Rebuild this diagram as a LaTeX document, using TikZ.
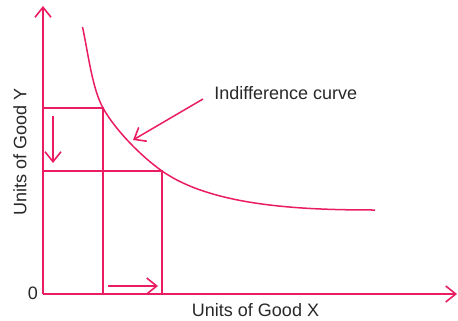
\documentclass[tikz,border=0pt]{standalone}
\usepackage{fontspec}
\setmainfont{Liberation Sans}
\usetikzlibrary{arrows.meta, positioning}
\definecolor{curvered}{RGB}{234,28,98}
\definecolor{labelgray}{RGB}{40,40,40}

\begin{document}
\begin{tikzpicture}[
    x=0.5pt, y=-0.5pt,
    >={Straight Barb[length=5pt, width=8pt, line width=0.8pt]},
    line/.style={draw=curvered, line width=0.75pt},
    label/.style={text=labelgray, font=\fontsize{9}{10}\selectfont, inner sep=0pt}
  ]
  \useasboundingbox (0,0) rectangle (458,320);

  % axes
  \coordinate (origin) at (43,294);
  \coordinate (ytop) at (43,6);
  \coordinate (xend) at (457,294);
  \draw[line, ->] (origin) -- (ytop);
  \draw[line, ->] (origin) -- (xend);

  % the two bundles on the curve
  \coordinate (bundleA) at (103,108);
  \coordinate (bundleB) at (162,171);
  \coordinate (yA) at (43,108);
  \coordinate (yB) at (43,171);
  \coordinate (xA) at (103,294);
  \coordinate (xB) at (162,294);
  \draw[line] (yA) -- (bundleA) -- (xA);
  \draw[line] (yB) -- (bundleB) -- (xB);

  % indifference curve
  \coordinate (icbegin) at (82.5,27);
  \coordinate (icend) at (375,210);
  \draw[line] (icbegin) .. controls (88,52) and (92,88) .. (bundleA)
              .. controls (115.5,130.5) and (142,157) .. (bundleB)
              .. controls (212,206) and (300,210) .. (icend);

  % change arrows
  \coordinate (dyTop) at (53,116);
  \coordinate (dyBot) at (53,163);
  \coordinate (dxLeft) at (108,286);
  \coordinate (dxRight) at (158,286);
  \draw[line, ->] (dyTop) -- (dyBot);
  \draw[line, ->] (dxLeft) -- (dxRight);

  % labels
  \node[label, anchor=west] (iclabel) at (214,93) {Indifference curve};
  \coordinate (icstart) at (203,99);
  \coordinate (ictip) at (133,140);
  \draw[line, ->] (icstart) -- (ictip);

  \node[label] (xlabel) at (255.5,310) {Units of Good X};
  \node[label, rotate=90] (ylabel) at (20,152) {Units of Good Y};
  \node[label] (zero) at (33,293) {0};
\end{tikzpicture}
\end{document}
